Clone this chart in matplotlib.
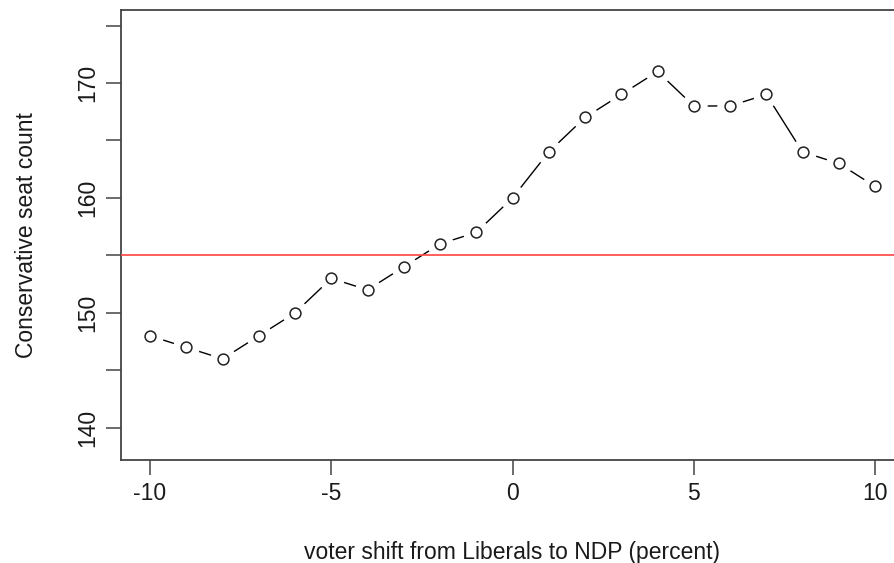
import matplotlib
matplotlib.use("Agg")
import matplotlib.pyplot as plt

# voter shift (percent) and resulting Conservative seat count
shift = [-10, -9, -8, -7, -6, -5, -4, -3, -2, -1, 0, 1, 2, 3, 4, 5, 6, 7, 8, 9, 10]
seats = [148, 147, 146, 148, 150, 153, 152, 154, 156, 157, 160,
         164, 167, 169, 171, 168, 168, 169, 164, 163, 161]
majority = 155

xticks = [-10, -5, 0, 5, 10]
yticks = [140, 145, 150, 155, 160, 165, 170, 175]
ylabels = ["140", "", "150", "", "160", "", "170", ""]

plt.rcParams["font.family"] = ["Liberation Sans", "DejaVu Sans"]
plt.rcParams["axes.unicode_minus"] = False

fig = plt.figure(figsize=(8.95, 5.63), dpi=100)
ax = fig.add_axes([121 / 895, 1 - 460 / 563, 1 - 121 / 895 + 0.01, 450 / 563])

# R type="b": line with gaps around the points
ax.plot(shift, seats, color="black", lw=1.0, zorder=2)
ax.plot(shift, seats, ls="none", marker="o", ms=18, mfc="white", mec="white", zorder=3)
ax.plot(shift, seats, ls="none", marker="o", ms=7.8, mfc="white", mec="#222222",
        mew=1.1, zorder=4)
ax.axhline(majority, color="#ff5050", lw=1.3, zorder=5)

ax.set_xlim(-10.8, 10.55 + 0.01 * 895 / 36.25)
ax.set_ylim(137.2, 176.35)
ax.set_xticks(xticks)
ax.set_yticks(yticks)
ax.set_yticklabels(ylabels, rotation=90, va="center")

for s in ax.spines.values():
    s.set_color("#444444")
    s.set_linewidth(1.3)
ax.tick_params(axis="both", length=10.5, width=1.1, color="#444444",
               labelsize=16.5, pad=5, labelcolor="#1a1a1a")

ax.set_xlabel("voter shift from Liberals to NDP (percent)", fontsize=16.5,
              labelpad=26, color="#1a1a1a")
ax.set_ylabel("Conservative seat count", fontsize=16.5, labelpad=28, color="#1a1a1a")

fig.savefig("out.png", dpi=100)
